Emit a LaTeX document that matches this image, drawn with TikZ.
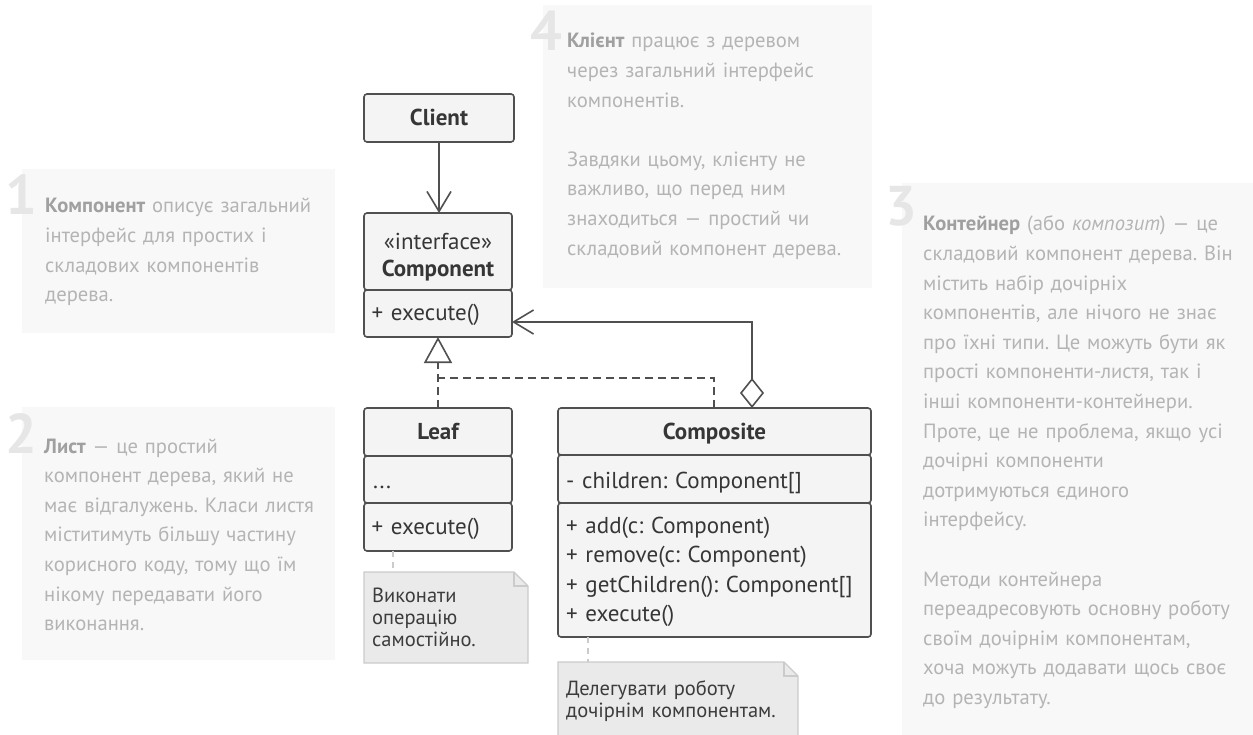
\documentclass[tikz,border=0pt]{standalone}
\usepackage{fontspec}
\setmainfont{PT Sans}
\usetikzlibrary{arrows.meta}
\frenchspacing

\definecolor{panelbg}{HTML}{F8F8F8}
\definecolor{paneltext}{HTML}{B4B4B4}
\definecolor{panelbold}{HTML}{A0A0A0}
\definecolor{digitcol}{HTML}{E6E6E6}
\definecolor{umlline}{HTML}{505050}
\definecolor{umlfill}{HTML}{F4F4F4}
\definecolor{umltext}{HTML}{363636}
\definecolor{notefill}{HTML}{EAEAEA}
\definecolor{noteline}{HTML}{CBCBCB}
\definecolor{notetext}{HTML}{3C3C3C}

\newcommand\pnlfont{\fontsize{20.6}{29.6}\selectfont}
\newcommand\umlfont{\fontsize{23}{29.5}\selectfont}
\newcommand\notefont{\fontsize{20.5}{22}\selectfont}
\newcommand\digitfont{\fontsize{56}{56}\selectfont\bfseries}
\newcommand\hl[1]{{\bfseries\color{panelbold}#1}}

\tikzset{
  panel/.style={fill=panelbg, draw=none, anchor=north west, inner sep=0pt, outer sep=0pt},
  ptxt/.style={text=paneltext, font=\pnlfont, align=left, anchor=base west, inner sep=0pt, text width=#1},
  digit/.style={text=digitcol, font=\digitfont, anchor=base east, inner sep=0pt},
  umlbox/.style={draw=umlline, fill=umlfill, line width=1.6pt, rounded corners=3pt,
    anchor=north west, inner sep=0pt, outer sep=0pt},
  umlname/.style={text=umltext, font=\umlfont\bfseries, anchor=base, inner sep=0pt},
  umlitem/.style={text=umltext, font=\umlfont, anchor=base west, inner sep=0pt, align=left, text width=#1},
  link/.style={draw=umlline, line width=1.6pt},
  dashlink/.style={link, dash pattern=on 8pt off 5pt},
  opentip/.style={-{Straight Barb[length=20pt, width=24pt, line width=1.6pt]}},
  notebox/.style={anchor=north west, inner sep=0pt, outer sep=0pt},
  noteshape/.style={draw=noteline, fill=notefill, line width=1.4pt},
  notetxt/.style={text=notetext, font=\notefont, align=left, anchor=base west, inner sep=0pt, text width=#1},
  notelink/.style={draw=noteline, line width=1.6pt, dash pattern=on 6pt off 5pt},
}

\begin{document}
\begin{tikzpicture}[x=1pt, y=-1pt]
\useasboundingbox (0,0) rectangle (1253,735);

% ---- explanatory panels ----
\node[panel, minimum width=313pt, minimum height=164pt] (p1) at (22,169) {};
\node[panel, minimum width=313pt, minimum height=253pt] (p2) at (22,407) {};
\node[panel, minimum width=329pt, minimum height=283pt] (p4) at (543,5) {};
\node[panel, minimum width=351pt, minimum height=552pt] (p3) at (902,183) {};

\node[digit] (d1) at (37,215) {1};
\node[digit] (d2) at (37,453) {2};
\node[digit] (d4) at (562,51) {4};
\node[digit] (d3) at (917,226) {3};

\node[ptxt=330pt] (t1) at (45,213) {\hl{Компонент} описує загальний\\інтерфейс для простих і\\складових компонентів\\дерева.};
\node[ptxt=330pt] (t2) at (44,453) {\hl{Лист} — це простий\\компонент дерева, який не\\має відгалужень. Класи листя\\міститимуть більшу частину\\корисного коду, тому що їм\\нікому передавати його\\виконання.};
\node[ptxt=330pt] (t4) at (567,48) {\hl{Клієнт} працює з деревом\\через загальний інтерфейс\\компонентів.\\[29.6pt]Завдяки цьому, клієнту не\\важливо, що перед ним\\знаходиться — простий чи\\складовий компонент дерева.};
\node[ptxt=340pt] (t3) at (923,231) {\hl{Контейнер} (або \textit{композит}) — це\\складовий компонент дерева. Він\\містить набір дочірніх\\компонентів, але нічого не знає\\про їхні типи. Це можуть бути як\\прості компоненти-листя, так і\\інші компоненти-контейнери.\\Проте, це не проблема, якщо усі\\дочірні компоненти\\дотримуються єдиного\\інтерфейсу.\\[29.6pt]Методи контейнера\\переадресовують основну роботу\\своїм дочірнім компонентам,\\хоча можуть додавати щось своє\\до результату.};

% ---- class boxes ----
\node[umlbox, minimum width=150pt, minimum height=48pt] (client) at (364,94) {};
\node[umlname] (clientlbl) at (439,126) {Client};

\node[umlbox, minimum width=148pt, minimum height=77pt] (cname) at (364,213) {};
\node[umlbox, minimum width=148pt, minimum height=47pt] (cmeth) at (364,290) {};
\node[text=umltext, font=\umlfont, anchor=base, inner sep=0pt] (cster) at (438,250) {«interface»};
\node[umlname] (clbl) at (438,277) {Component};
\node[umlitem=140pt] (cexec) at (371.5,321) {+ execute()};

\node[umlbox, minimum width=148pt, minimum height=48pt] (lname) at (364,408) {};
\node[umlbox, minimum width=148pt, minimum height=47pt] (lattr) at (364,456) {};
\node[umlbox, minimum width=148pt, minimum height=48pt] (lmeth) at (364,503) {};
\node[umlname] (llbl) at (438,439) {Leaf};
\node[umlitem=140pt] (ldots) at (373,488) {...};
\node[umlitem=140pt] (lexec) at (371.5,534) {+ execute()};

\node[umlbox, minimum width=313pt, minimum height=47pt] (kname) at (558,408) {};
\node[umlbox, minimum width=313pt, minimum height=48pt] (kattr) at (558,455) {};
\node[umlbox, minimum width=313pt, minimum height=134pt] (kmeth) at (558,503) {};
\node[umlname] (klbl) at (714.5,439) {Composite};
\node[umlitem=305pt] (kfield) at (566,488) {- children: Component[]};
\node[umlitem=305pt] (kops) at (566,533) {+ add(c: Component)\\+ remove(c: Component)\\+ getChildren(): Component[]\\+ execute()};

% ---- relations ----
\draw[link, opentip] (client.south) -- (client.south |- cname.north);

\coordinate (junction) at (438,378);
\coordinate (kdash) at ([xshift=156pt]kname.north west);
\draw[dashlink, -{Triangle[length=26pt, width=28pt, fill=white, line width=1.6pt]}]
  (lname.north -| junction) -- (cmeth.south -| junction);
\draw[dashlink] (kdash) |- (junction);

\coordinate (aggy) at (0,322);
\coordinate (kagg) at ([xshift=194pt]kname.north west);
\draw[link, {Diamond[length=30pt, width=24pt, fill=white, line width=1.6pt]}-{Straight Barb[length=20pt, width=24pt, line width=1.6pt]}]
  (kagg) |- (cmeth.east |- aggy);

% ---- notes ----
\node[notebox, minimum width=164pt, minimum height=91pt] (n1) at (364,572) {};
\draw[noteshape] (n1.north west) -- ([xshift=-14pt]n1.north east) -- ([yshift=-14pt]n1.north east)
  -- (n1.south east) -- (n1.south west) -- cycle;
\draw[noteshape, fill=none] ([xshift=-14pt]n1.north east) -- ([xshift=-14pt, yshift=-14pt]n1.north east)
  -- ([yshift=-14pt]n1.north east);
\node[notetxt=150pt] (n1txt) at (372,602) {Виконати\\операцію\\самостійно.};
\coordinate (n1top) at (393,0);
\draw[notelink] (lmeth.south -| n1top) -- (n1.north -| n1top);

\node[notebox, minimum width=240pt, minimum height=85pt] (n2) at (558,662) {};
\draw[noteshape] (n2.north west) -- ([xshift=-14pt]n2.north east) -- ([yshift=-14pt]n2.north east)
  -- (n2.south east) -- (n2.south west) -- cycle;
\draw[noteshape, fill=none] ([xshift=-14pt]n2.north east) -- ([xshift=-14pt, yshift=-14pt]n2.north east)
  -- ([yshift=-14pt]n2.north east);
\node[notetxt=230pt] (n2txt) at (566,695) {Делегувати роботу\\дочірнім компонентам.};
\coordinate (n2top) at (588,0);
\draw[notelink] (kmeth.south -| n2top) -- (n2.north -| n2top);
\end{tikzpicture}
\end{document}
